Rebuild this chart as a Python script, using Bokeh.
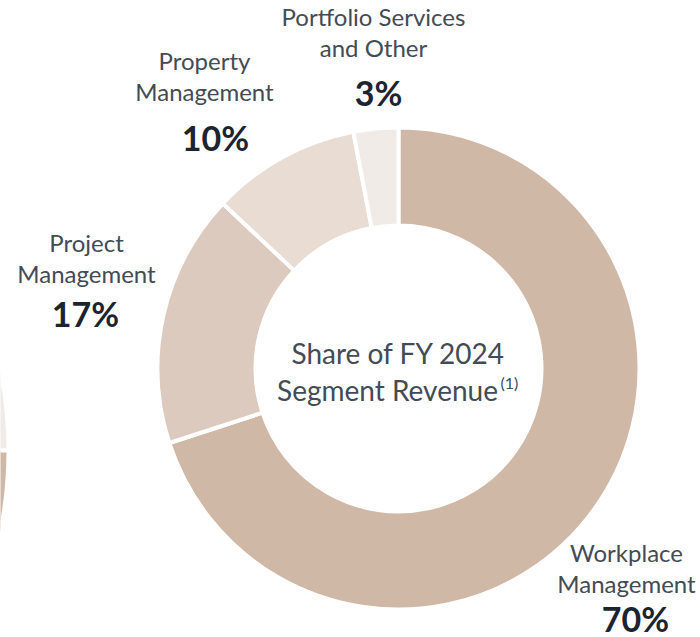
import math
from bokeh.plotting import figure
from bokeh.models import Range1d
from bokeh.core.properties import value
from bokeh.embed import file_html
from bokeh.resources import INLINE

# ---- data ----
segments = ["Workplace Management", "Project Management", "Property Management", "Portfolio Services and Other"]
shares = [70, 17, 10, 3]
colors = ["#cfb8a6", "#dbcabd", "#e8dcd3", "#f0ebe7"]
label_lines = [["Workplace", "Management"], ["Project", "Management"], ["Property", "Management"], ["Portfolio Services", "and Other"]]
pct_labels = ["70%", "17%", "10%", "3%"]
center_lines = ["Share of FY 2024", "Segment Revenue"]
center_sup = "(1)"
# neighbouring (cut-off) chart at left edge
neighbor_colors = ["#f0ebe7", "#cfb8a6"]

W, H = 700, 637
FONT = "Lato"
LABEL_C = "#434b56"
NUM_C = "#1c2430"
DY = 10  # baseline correction

def Y(sy):
    return H - sy

def T(sy):
    return H - (sy - DY)

p = figure(width=W, height=H, output_backend="svg", toolbar_location=None,
           x_range=Range1d(0, W), y_range=Range1d(0, H), min_border=0)
p.axis.visible = False
p.grid.visible = False
p.outline_line_color = None
p.background_fill_color = "white"

cx, cy = 398, Y(368)
r_in, r_out = 143, 241

# donut wedges, clockwise from 12 o'clock
start = 90.0
starts, ends = [], []
for s in shares:
    e = start - s * 3.6
    starts.append(math.radians(start))
    ends.append(math.radians(e))
    start = e
p.annular_wedge(x=[cx] * len(shares), y=[cy] * len(shares), inner_radius=r_in, outer_radius=r_out,
                start_angle=starts, end_angle=ends, direction="clock",
                fill_color=colors, line_color="white", line_width=4)

# partial neighbour donut at left edge
p.annular_wedge(x=[-394, -394], y=[Y(450), Y(450)], inner_radius=300, outer_radius=402,
                start_angle=[math.radians(20), 0.0], end_angle=[0.0, math.radians(-20)], direction="clock",
                fill_color=neighbor_colors, line_color="white", line_width=4)

# labels: (x center, baselines of lines, pct x, pct baseline)
label_pos = [
    (626, [562, 593], 635, 628),
    (86, [252, 283], 85, 323),
    (204, [70, 101], 215, 147),
    (373, [26, 57], 378, 102),
]
for lines, pct, (lx, bls, px, pb) in zip(label_lines, pct_labels, label_pos):
    p.text(x=[lx] * len(lines), y=[T(b) for b in bls], text=lines, text_align="center",
           text_baseline="alphabetic", text_font=value(FONT), text_font_size="24px",
           text_color=LABEL_C)
    p.text(x=[px], y=[T(pb)], text=[pct], text_align="center", text_baseline="alphabetic",
           text_font=value(FONT), text_font_size="34px", text_font_style="bold", text_color=NUM_C)

# centre text
p.text(x=[398], y=[T(362)], text=[center_lines[0]], text_align="center", text_baseline="alphabetic",
       text_font=value(FONT), text_font_size="28px", text_color=LABEL_C)
p.text(x=[387], y=[T(399)], text=[center_lines[1]], text_align="center", text_baseline="alphabetic",
       text_font=value(FONT), text_font_size="28px", text_color=LABEL_C)
p.text(x=[500], y=[T(392)], text=[center_sup], text_align="left", text_baseline="alphabetic",
       text_font=value(FONT), text_font_size="16px", text_color=LABEL_C)

open("out.html", "w").write(file_html(p, INLINE))
